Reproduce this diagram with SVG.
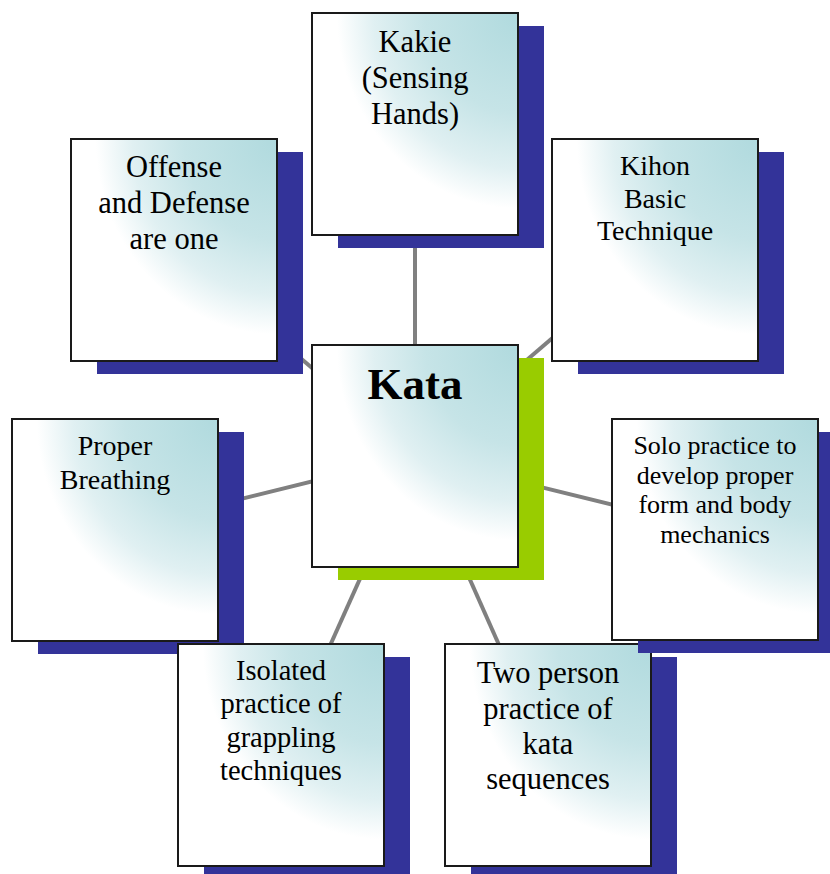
<svg xmlns="http://www.w3.org/2000/svg" width="830" height="874" viewBox="0 0 830 874">
<defs>
<radialGradient id="fill" cx="1" cy="0" r="1" fx="1" fy="0">
<stop offset="0" stop-color="#B0DADE"/>
<stop offset="0.45" stop-color="#C6E4E7"/>
<stop offset="0.7" stop-color="#E0F0F2"/>
<stop offset="0.88" stop-color="#FFFFFF"/>
</radialGradient>
<style>
.box{fill:url(#fill);stroke:#1a1a1a;stroke-width:2}
.sh{fill:#333399}
.shg{fill:#99CC00}
.t{font-family:"Liberation Serif","Times New Roman",serif;fill:#000;text-anchor:middle}
.conn line{stroke:#808080;stroke-width:4}
</style>
</defs>
<rect width="830" height="874" fill="#fff"/>
<g id="connectors" class="conn">
<line x1="415" y1="456" x2="415" y2="124"/>
<line x1="415" y1="456" x2="174" y2="250"/>
<line x1="415" y1="456" x2="655" y2="250"/>
<line x1="415" y1="456" x2="115" y2="530"/>
<line x1="415" y1="456" x2="715" y2="530"/>
<line x1="415" y1="456" x2="281" y2="755"/>
<line x1="415" y1="456" x2="548" y2="755"/>
</g>
<g id="offense">
<rect class="sh" x="97" y="152" width="206" height="222"/>
<rect class="box" x="71" y="139" width="206" height="222"/>
<text class="t" font-size="30.5"><tspan x="174" y="177">Offense</tspan><tspan x="174" y="213">and Defense</tspan><tspan x="174" y="249">are one</tspan></text>
</g>
<g id="kakie">
<rect class="sh" x="338" y="26" width="206" height="222"/>
<rect class="box" x="312" y="13" width="206" height="222"/>
<text class="t" font-size="30.5"><tspan x="415" y="52">Kakie</tspan><tspan x="415" y="88">(Sensing</tspan><tspan x="415" y="124">Hands)</tspan></text>
</g>
<g id="kihon">
<rect class="sh" x="578" y="152" width="206" height="222"/>
<rect class="box" x="552" y="139" width="206" height="222"/>
<text class="t" font-size="28"><tspan x="655" y="175">Kihon</tspan><tspan x="655" y="207.5">Basic</tspan><tspan x="655" y="240">Technique</tspan></text>
</g>
<g id="proper-breathing">
<rect class="sh" x="38" y="432" width="206" height="222"/>
<rect class="box" x="12" y="419" width="206" height="222"/>
<text class="t" font-size="28"><tspan x="115" y="455">Proper</tspan><tspan x="115" y="489">Breathing</tspan></text>
</g>
<g id="isolated">
<rect class="sh" x="204" y="657" width="206" height="222"/>
<rect class="box" x="178" y="644" width="206" height="222"/>
<text class="t" font-size="28.5"><tspan x="281" y="680">Isolated</tspan><tspan x="281" y="713">practice of</tspan><tspan x="281" y="747">grappling</tspan><tspan x="281" y="780">techniques</tspan></text>
</g>
<g id="two-person">
<rect class="sh" x="471" y="657" width="206" height="222"/>
<rect class="box" x="445" y="644" width="206" height="222"/>
<text class="t" font-size="30.5"><tspan x="548" y="683">Two person</tspan><tspan x="548" y="718.5">practice of</tspan><tspan x="548" y="754">kata</tspan><tspan x="548" y="789">sequences</tspan></text>
</g>
<g id="solo">
<rect class="sh" x="638" y="432" width="206" height="221"/>
<rect class="box" x="612" y="419" width="206" height="221"/>
<text class="t" font-size="26"><tspan x="715" y="454">Solo practice to</tspan><tspan x="715" y="483.5">develop proper</tspan><tspan x="715" y="513">form and body</tspan><tspan x="715" y="542.5">mechanics</tspan></text>
</g>
<g id="kata">
<rect class="shg" x="338" y="358" width="206" height="222"/>
<rect class="box" x="312" y="345" width="206" height="222"/>
<text class="t" font-size="45" font-weight="bold" x="415" y="399">Kata</text>
</g>
</svg>
